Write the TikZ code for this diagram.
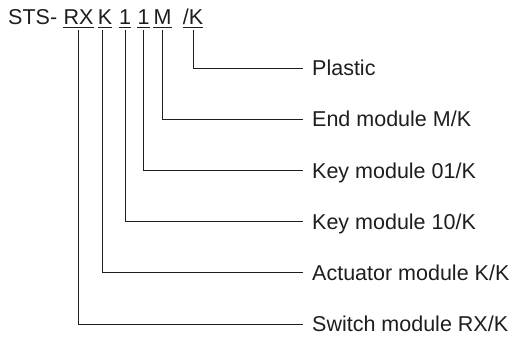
\documentclass[tikz,border=0pt]{standalone}
\usepackage{fontspec}
\setmainfont{Liberation Sans}
\definecolor{ink}{HTML}{1E1E1E}
\begin{document}
\begin{tikzpicture}[x=1pt,y=-1pt,
  font=\fontsize{21.5}{25}\selectfont,
  every node/.style={text=ink},
  piece/.style={anchor=base, inner sep=0pt, text depth=0pt},
  lbl/.style={anchor=base west, inner sep=0pt},
  uline/.style={draw=ink, line width=1pt},
  conn/.style={draw=ink, line width=1pt}]
\useasboundingbox (0,0) rectangle (509,338);
% title
\node[anchor=base west, inner sep=0pt] (sts) at (8,24) {STS-};
\node[piece] (rx) at (78.5,24) {RX};
\node[piece] (k)  at (105,24) {K};
\node[piece] (o1) at (125,24) {1};
\node[piece] (o2) at (143.5,24) {1};
\node[piece] (m)  at (162.5,24) {M};
\node[piece] (pk) at (193,24) {/K};
\foreach \n in {rx,k,o1,o2,m,pk}
  \draw[uline] ([yshift=-3pt]\n.south west) -- ([yshift=-3pt]\n.south east);
% labels
\node[lbl] (plastic) at (312,75.7) {Plastic};
\node[lbl] (endm)    at (312,126.9) {End module M/K};
\node[lbl] (key01)   at (312,178.1) {Key module 01/K};
\node[lbl] (key10)   at (312,229.3) {Key module 10/K};
\node[lbl] (act)     at (312,280.5) {Actuator module K/K};
\node[lbl] (sw)      at (312,331.7) {Switch module RX/K};
% connectors
\draw[conn] ([yshift=-6pt]pk.south) |- ([xshift=-9pt,yshift=7.7pt]plastic.base west);
\draw[conn] ([yshift=-6pt]m.south)  |- ([xshift=-9pt,yshift=7.7pt]endm.base west);
\draw[conn] ([yshift=-6pt]o2.south) |- ([xshift=-9pt,yshift=7.7pt]key01.base west);
\draw[conn] ([yshift=-6pt]o1.south) |- ([xshift=-9pt,yshift=7.7pt]key10.base west);
\draw[conn] ([xshift=-3pt,yshift=-6pt]k.south) |- ([xshift=-9pt,yshift=7.7pt]act.base west);
\draw[conn] ([yshift=-6pt]rx.south) |- ([xshift=-9pt,yshift=7.7pt]sw.base west);
\end{tikzpicture}
\end{document}
